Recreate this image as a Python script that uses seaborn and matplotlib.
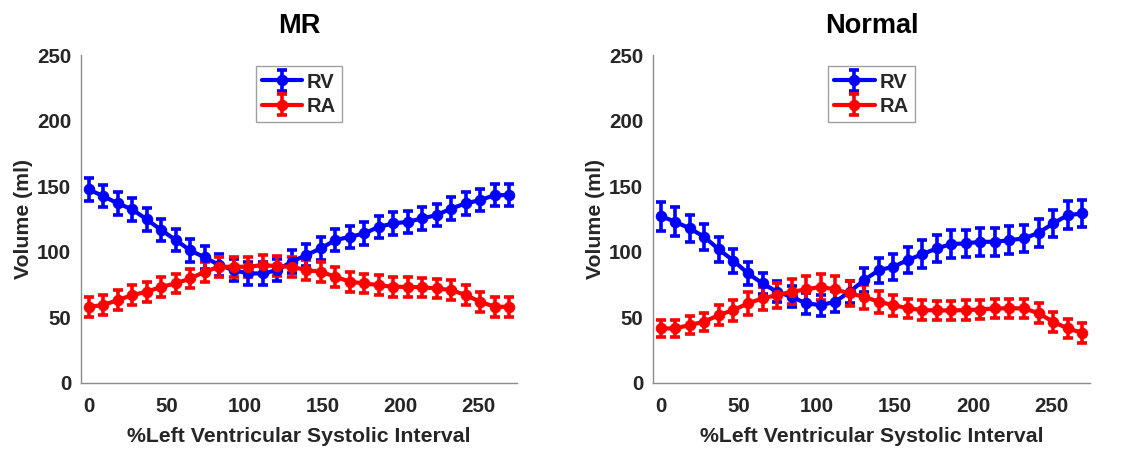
import numpy as np
import pandas as pd
import matplotlib
matplotlib.use("Agg")
import matplotlib.pyplot as plt
import seaborn as sns
from matplotlib.legend_handler import HandlerTuple

# ---------------- data ----------------
pct_lv = [0.0, 9.3, 18.6, 27.9, 37.2, 46.6, 55.9, 65.2, 74.5, 83.8,
          93.1, 102.4, 111.7, 121.0, 130.3, 139.7, 149.0, 158.3, 167.6, 176.9,
          186.2, 195.5, 204.8, 214.1, 223.4, 232.8, 242.1, 251.4, 260.7, 270.0]

mr_rv = [147.5, 142.4, 136.9, 132.3, 124.7, 116.5, 108.9, 101.0, 95.7, 89.9,
         86.0, 83.5, 83.5, 86.0, 92.5, 97.5, 102.6, 108.9, 111.4, 114.0,
         119.0, 121.6, 122.9, 125.4, 128.0, 133.0, 136.9, 139.4, 143.2, 143.2]
mr_rv_err = [8.5] * 30

mr_ra = [58.1, 59.4, 63.2, 67.0, 69.5, 73.3, 75.9, 79.7, 84.8, 88.6,
         88.6, 88.6, 89.9, 89.0, 88.6, 86.0, 84.8, 81.0, 77.2, 75.9,
         74.6, 73.3, 73.3, 72.9, 72.1, 70.8, 67.0, 61.9, 58.1, 58.1]
mr_ra_err = [7.5] * 30

nl_rv = [127.2, 122.9, 117.8, 111.4, 101.8, 93.2, 83.5, 75.9, 69.5, 65.7,
         60.7, 59.4, 61.9, 69.5, 78.4, 86.0, 88.6, 93.7, 98.2, 102.6,
         105.9, 106.4, 107.6, 107.6, 108.9, 110.2, 114.5, 121.6, 127.9, 129.2]
nl_rv_err = [11, 11, 10.5, 10, 9.5, 9, 8.5, 8, 8, 8,
             8, 8, 8, 8.5, 9, 9.5, 10, 10, 10.5, 10.5,
             10.5, 10.5, 10.5, 10.5, 10.5, 10.5, 10.5, 10.5, 10.5, 10.5]

nl_ra = [41.6, 41.6, 44.2, 46.7, 51.8, 55.6, 60.7, 64.5, 67.0, 69.5,
         71.3, 73.3, 71.3, 68.3, 65.7, 61.9, 59.4, 56.9, 55.6, 55.3,
         55.3, 55.6, 56.0, 56.9, 56.9, 56.9, 53.1, 46.7, 41.6, 38.3]
nl_ra_err = [6.5, 6.5, 6.5, 7, 7.5, 8, 8.5, 9, 9.5, 9.5,
             10, 10, 10, 9.5, 9, 8.5, 8, 7.5, 7.5, 7.5,
             7.5, 7.5, 7.5, 7.5, 7.5, 7.5, 7.5, 7.5, 7.5, 7.5]

panel_titles = ["MR", "Normal"]
series_names = ["RV", "RA"]
series_colors = ["#0000FF", "#FF0000"]
x_ticks = [0, 50, 100, 150, 200, 250]
y_ticks = [0, 50, 100, 150, 200, 250]

panels = [
    (panel_titles[0], [(mr_rv, mr_rv_err), (mr_ra, mr_ra_err)]),
    (panel_titles[1], [(nl_rv, nl_rv_err), (nl_ra, nl_ra_err)]),
]

# ---------------- style ----------------
sns.set_theme(style="white")
plt.rcParams["font.family"] = ["Liberation Sans", "DejaVu Sans"]
plt.rcParams["font.weight"] = "bold"
text_col = "#262626"
spine_col = "#8c8c8c"

fig = plt.figure(figsize=(11.33, 4.49), dpi=100)
axes_pos = [[0.0715, 0.147, 0.3848, 0.7305],
            [0.5763, 0.147, 0.3857, 0.7305]]

for (title, series), pos in zip(panels, axes_pos):
    ax = fig.add_axes(pos)
    handles = []
    for (vals, errs), name, col in zip(series, series_names, series_colors):
        df = pd.DataFrame({"x": pct_lv, "y": vals})
        sns.lineplot(data=df, x="x", y="y", ax=ax, color=col, lw=3.0,
                     marker="o", markersize=7.5, markeredgecolor=col,
                     markerfacecolor=col, legend=False, zorder=3)
        line = ax.lines[-1]
        eb = ax.errorbar(pct_lv, vals, yerr=errs, fmt="none", ecolor=col,
                         elinewidth=2.6, capsize=3.8, capthick=2.6, zorder=2)
        handles.append((line, eb))

    ax.set_xlim(-5, 275)
    ax.set_ylim(0, 250)
    ax.set_xticks(x_ticks)
    ax.set_yticks(y_ticks)
    ax.set_xlabel("%Left Ventricular Systolic Interval", fontsize=15.3,
                  fontweight="bold", color=text_col, labelpad=8)
    ax.set_ylabel("Volume (ml)", fontsize=15.3, fontweight="bold",
                  color=text_col, labelpad=3)
    ax.set_title(title, fontsize=19.5, fontweight="bold", color="black", pad=16)

    for s in ["top", "right"]:
        ax.spines[s].set_visible(False)
    for s in ["left", "bottom"]:
        ax.spines[s].set_color(spine_col)
        ax.spines[s].set_linewidth(1.0)
    ax.tick_params(axis="both", direction="in", length=3, width=0.8,
                   color=spine_col, labelsize=14.8, labelcolor=text_col)
    ax.tick_params(axis="x", pad=10)
    ax.tick_params(axis="y", pad=7)
    for lab in ax.get_xticklabels() + ax.get_yticklabels():
        lab.set_fontweight("bold")

    leg = ax.legend(handles, series_names, loc="upper center",
                    bbox_to_anchor=(0.5, 0.965),
                    handler_map={tuple: HandlerTuple(ndivide=1, pad=0)},
                    prop={"size": 14.5, "weight": "bold"},
                    frameon=True, fancybox=False, framealpha=1,
                    edgecolor="#a0a0a0", handlelength=2.0, handletextpad=0.25,
                    labelspacing=0.25, borderpad=0.3, borderaxespad=0)
    leg.get_frame().set_linewidth(1.0)
    for t in leg.get_texts():
        t.set_color(text_col)

fig.savefig("out.png", dpi=100, facecolor="white")
